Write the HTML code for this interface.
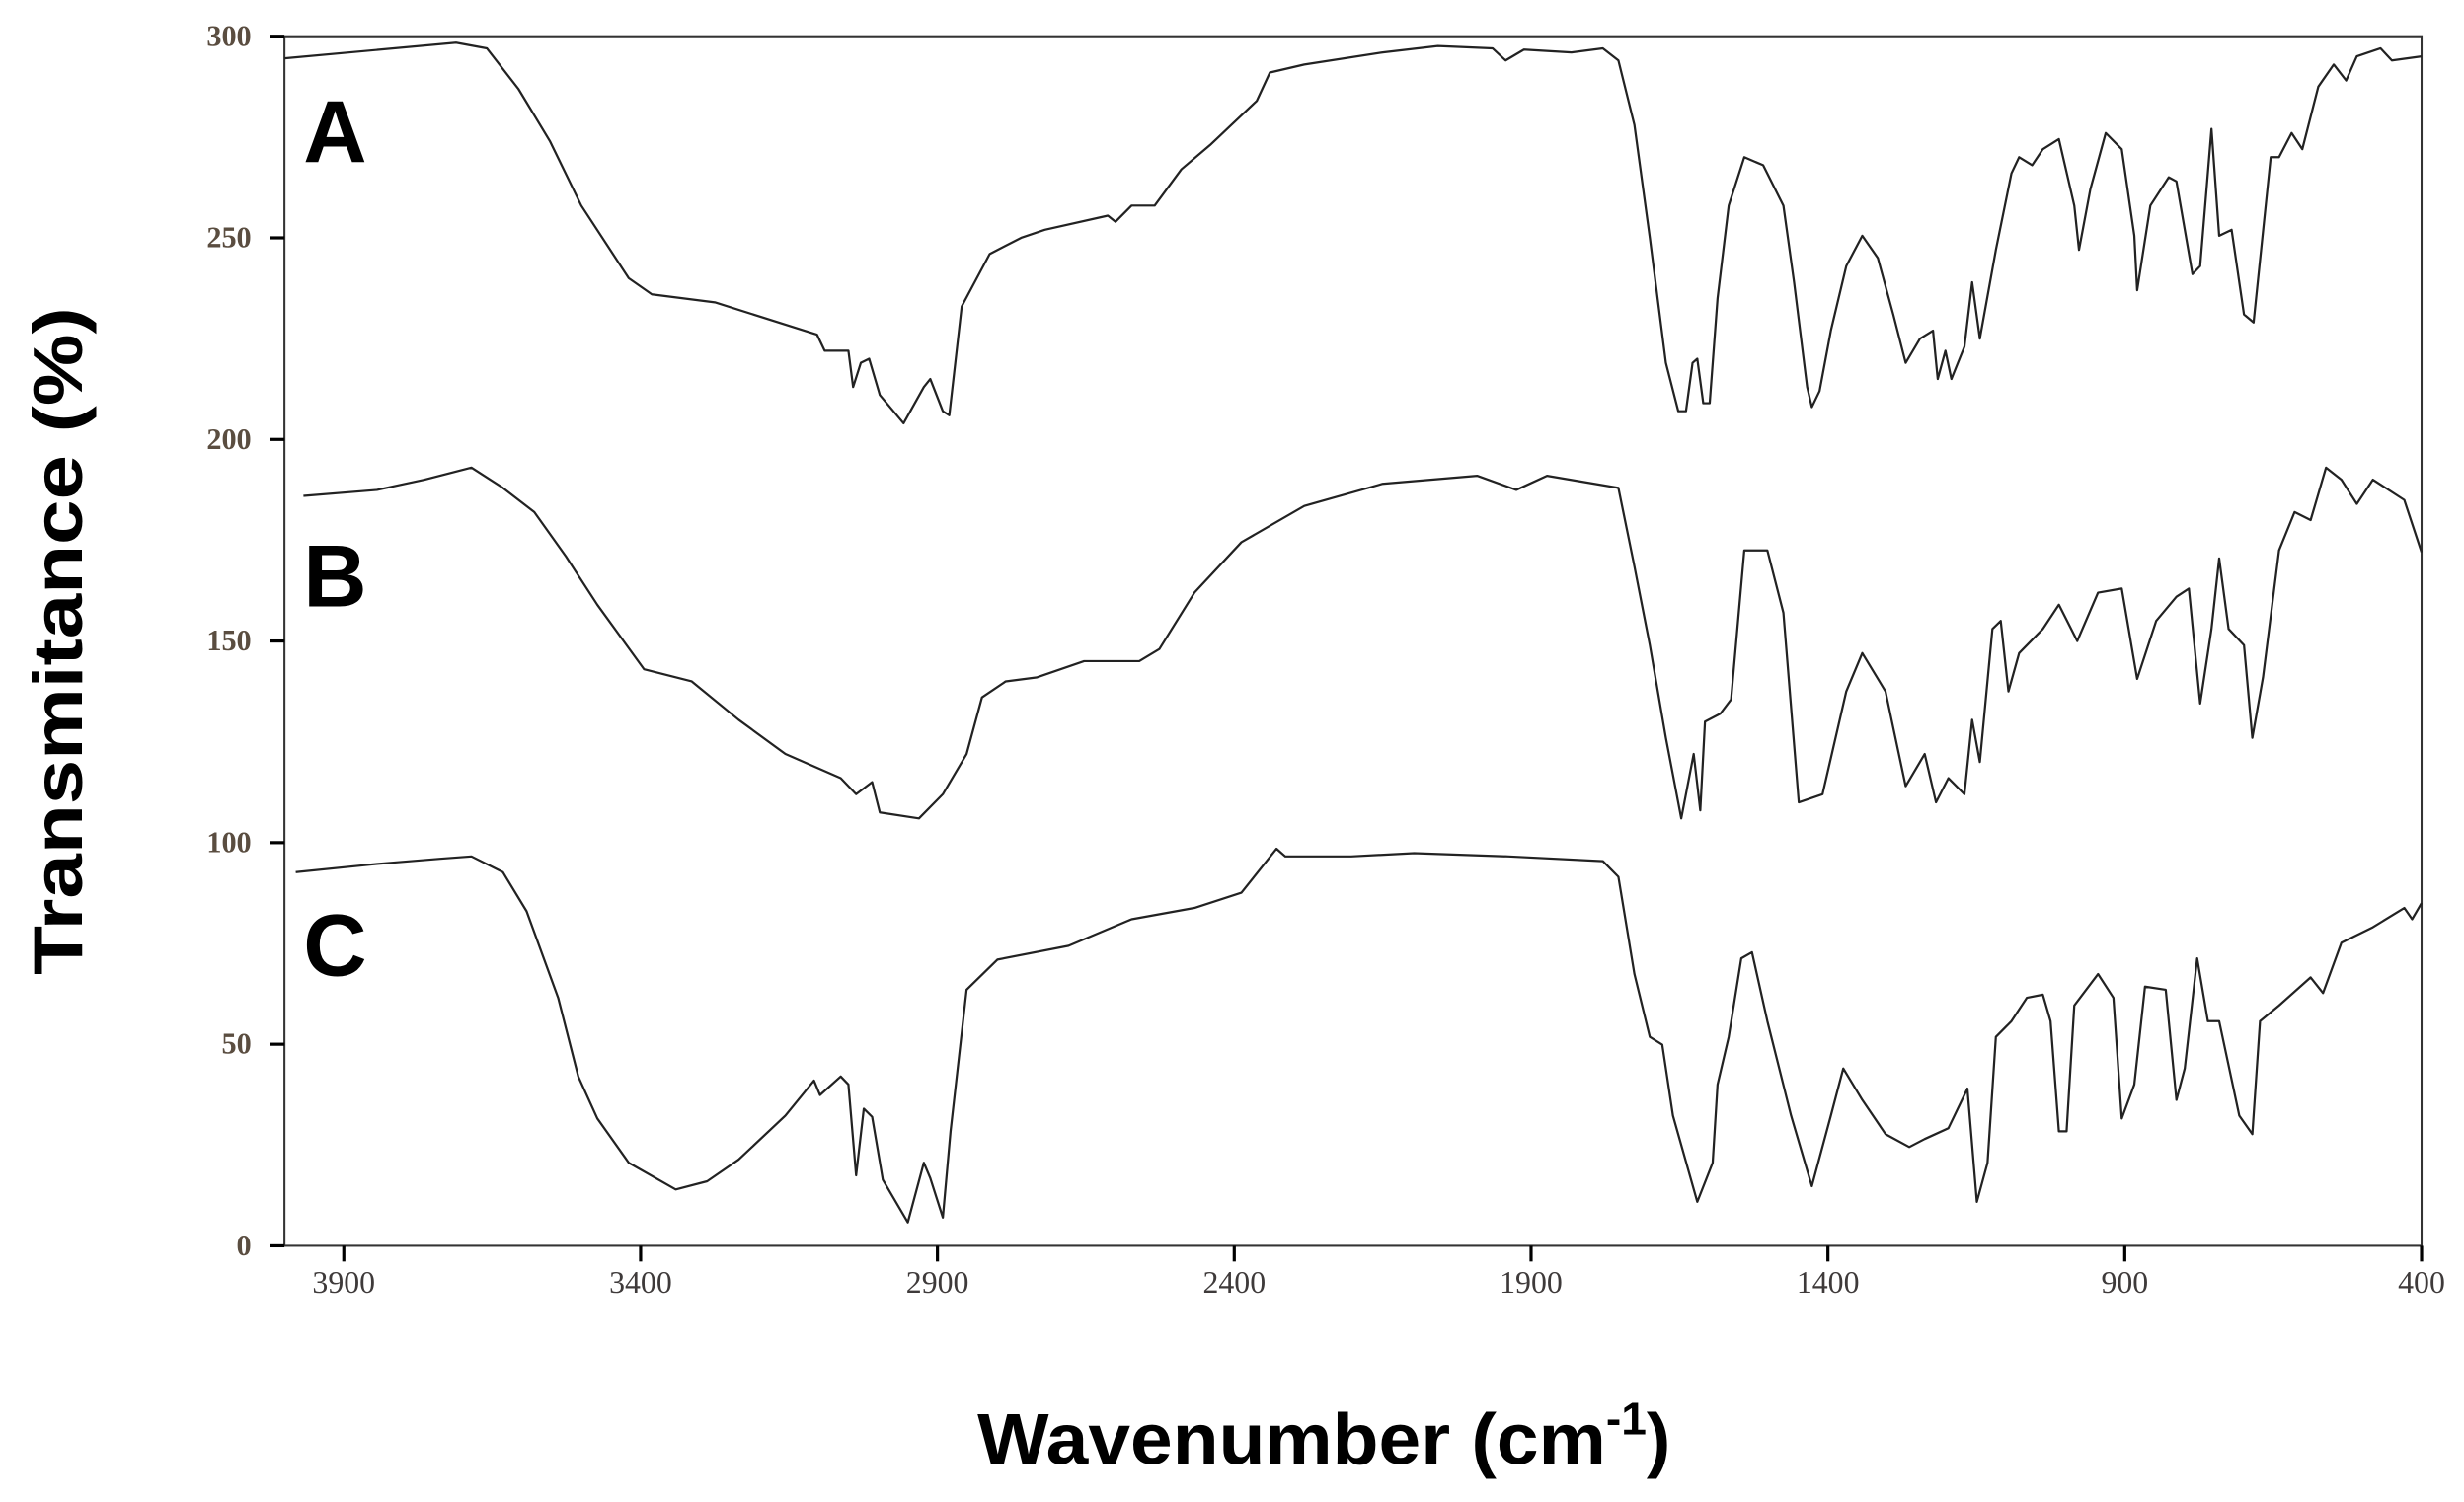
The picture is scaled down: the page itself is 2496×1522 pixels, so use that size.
<!DOCTYPE html>
<html><head><meta charset="utf-8"><style>
html,body{margin:0;padding:0;background:#fff;}
svg{display:block;}
</style></head><body>
<svg id="chart" width="2496" height="1522" viewBox="0 0 1568 956" xmlns="http://www.w3.org/2000/svg">
<g id="axes"></g>
<g id="series"></g>
<text transform="translate(52,408) rotate(-90)" text-anchor="middle" font-family="Liberation Sans, sans-serif" font-weight="bold" font-size="44" textLength="425" lengthAdjust="spacingAndGlyphs" fill="#000">Transmitance (%)</text>
<text x="622" y="932" font-family="Liberation Sans, sans-serif" font-weight="bold" font-size="46" fill="#000"><tspan textLength="400" lengthAdjust="spacingAndGlyphs">Wavenumber (cm</tspan><tspan dy="-19" font-size="29">-1</tspan><tspan dy="19">)</tspan></text>
<text x="193" y="103" font-family="Liberation Sans, sans-serif" font-weight="bold" font-size="56" fill="#000">A</text>
<text x="193" y="386" font-family="Liberation Sans, sans-serif" font-weight="bold" font-size="56" fill="#000">B</text>
<text x="193" y="621" font-family="Liberation Sans, sans-serif" font-weight="bold" font-size="56" fill="#000">C</text>
</svg>
<script>
const xTicks=[3900,3400,2900,2400,1900,1400,900,400];
const yTicks=[0,50,100,150,200,250,300];
const seriesAw=[4000,3711,3659,3606,3553,3500,3420,3381,3275,3103,3090,3050,3042,3029,3015,2997,2957,2923,2912,2891,2880,2859,2812,2759,2719,2613,2600,2573,2534,2489,2441,2362,2340,2282,2150,2057,1965,1943,1912,1832,1779,1753,1726,1700,1673,1652,1639,1628,1620,1610,1599,1586,1567,1541,1509,1475,1457,1435,1427,1414,1395,1369,1342,1316,1290,1269,1245,1223,1215,1202,1192,1170,1157,1144,1117,1091,1078,1056,1038,1011,985,977,958,932,905,884,879,857,826,813,786,773,754,741,720,699,683,654,640,619,601,574,548,527,509,469,450,400];
const seriesAv=[294.5,298.4,297,287,274,258,240,236,234,226,222,222,213,219,220,211,204,213,215,207,206,233,246,250,252,255.5,254,258,258,267,273,284,291,293,296,297.6,297,294,296.7,296,297,294,278,250,219,207,207,219,220,209,209,235,258,270,268,258,239,213,208,212,227,243,250.5,245,231,219,225,227,215,222,215,223,239,225,247,266,270,268,272,274.5,258,247,262,276,272,250.5,237,258,265,264,241,243,277,250.5,252,231,229,270,270,276,272,287.5,293,289,295,297,294,295];
const seriesBw=[3968,3844,3764,3685,3632,3579,3526,3473,3394,3314,3235,3156,3063,3037,3010,2997,2931,2891,2851,2825,2785,2732,2653,2560,2526,2467,2388,2282,2150,1991,1925,1873,1753,1726,1700,1673,1647,1626,1615,1607,1581,1563,1541,1502,1475,1449,1409,1369,1342,1303,1269,1237,1218,1197,1170,1157,1144,1123,1109,1096,1078,1038,1011,980,945,905,879,847,813,792,773,754,741,725,699,685,667,640,614,587,561,535,509,482,429,400];
const seriesBv=[186,187.5,190,193,188,182,171,159,143,140,130.5,122,116,112,115,107.5,106,112,122,136,140,141,145,145,148,162,174.5,183.5,189,191,187.5,191,188,168.5,149,126,106,122,108,130,132,135.5,172.5,172.5,157,110,112,137.5,147,137.5,114,122,110,116,112,130.5,120,153,155,137.5,147,153,159,150,162,163,140.6,155,161,163,134.5,153,170.5,153,149,126,141,172.5,182,180,193,190,184,190,185,172];
const seriesCw=[3981,3844,3738,3685,3632,3592,3539,3505,3473,3420,3341,3288,3235,3156,3108,3098,3063,3050,3037,3024,3010,2992,2950,2923,2912,2891,2878,2851,2799,2679,2573,2467,2388,2329,2314,2203,2097,1938,1779,1753,1726,1700,1679,1661,1620,1594,1586,1567,1546,1528,1502,1462,1427,1395,1374,1342,1303,1263,1237,1197,1165,1149,1131,1117,1091,1065,1038,1025,1011,998,985,945,919,905,884,866,831,813,799,778,760,741,707,685,672,640,587,566,535,482,429,416,400];
const seriesCv=[92.7,94.7,96,96.6,92.7,83,61.5,42,31.6,20.6,14,16,21.4,32.3,41,37.4,42,40,17.5,34,32,16.4,5.8,20.6,16.8,7,28.4,63.5,71,74.4,81,83.8,87.6,98.5,96.6,96.6,97.4,96.6,95.4,91.5,67.4,51.8,49.9,32.3,10.9,20.6,40,51.8,71.3,72.8,55.7,32.3,14.8,32.3,44,36.2,27.7,24.5,26.5,29.2,39,10.9,20.6,51.8,55.7,61.5,62.3,55.7,28.4,28.4,59.6,67.4,61.5,31.6,40,64.3,63.5,36.2,44,71.3,55.7,55.7,32.3,27.7,55.7,59.6,66.6,62.7,75.2,79,83.8,81,85];

const L=181,R=1541,T=23,B=793;
const xs=w=>L+(4000-w)*(R-L)/3600;
const ys=v=>B-v*(B-T)/300;
const NS='http://www.w3.org/2000/svg';
const axes=document.getElementById('axes');
function mk(tag,attrs,parent){const e=document.createElementNS(NS,tag);for(const k in attrs)e.setAttribute(k,attrs[k]);parent.appendChild(e);return e;}
const frame=mk('rect',{x:L,y:T,width:R-L,height:B-T,fill:'none',stroke:'#333','stroke-width':1.3},axes);


yTicks.forEach(v=>{
  const t=mk('line',{x1:L-9,x2:L,y1:ys(v),y2:ys(v),stroke:'#000','stroke-width':2},axes);
  
  
  const lb=mk('text',{x:L-21,y:ys(v)+6,'text-anchor':'end','font-family':'Liberation Serif, serif','font-weight':'bold','font-size':19,fill:'#5a4d40'},axes);
  lb.textContent=v;
  
  
});
xTicks.forEach(w=>{
  const t=mk('line',{x1:xs(w),x2:xs(w),y1:B,y2:B+10,stroke:'#000','stroke-width':2},axes);
  
  
  const lb=mk('text',{x:xs(w),y:B+30,'text-anchor':'middle','font-family':'Liberation Serif, serif','font-size':20,fill:'#3e3a3a'},axes);
  lb.textContent=w;
  
  
});
const sg=document.getElementById('series');
[['spectrum-a',seriesAw,seriesAv],['spectrum-b',seriesBw,seriesBv],['spectrum-c',seriesCw,seriesCv]].forEach(([n,W,V])=>{
  const d=W.map((w,i)=>(i?'L':'M')+xs(w).toFixed(1)+','+ys(V[i]).toFixed(1)).join('');
  const p=mk('path',{d:d,fill:'none',stroke:'#222','stroke-width':1.4,'stroke-linejoin':'round'},sg);
  
  
});
</script>
</body></html>
